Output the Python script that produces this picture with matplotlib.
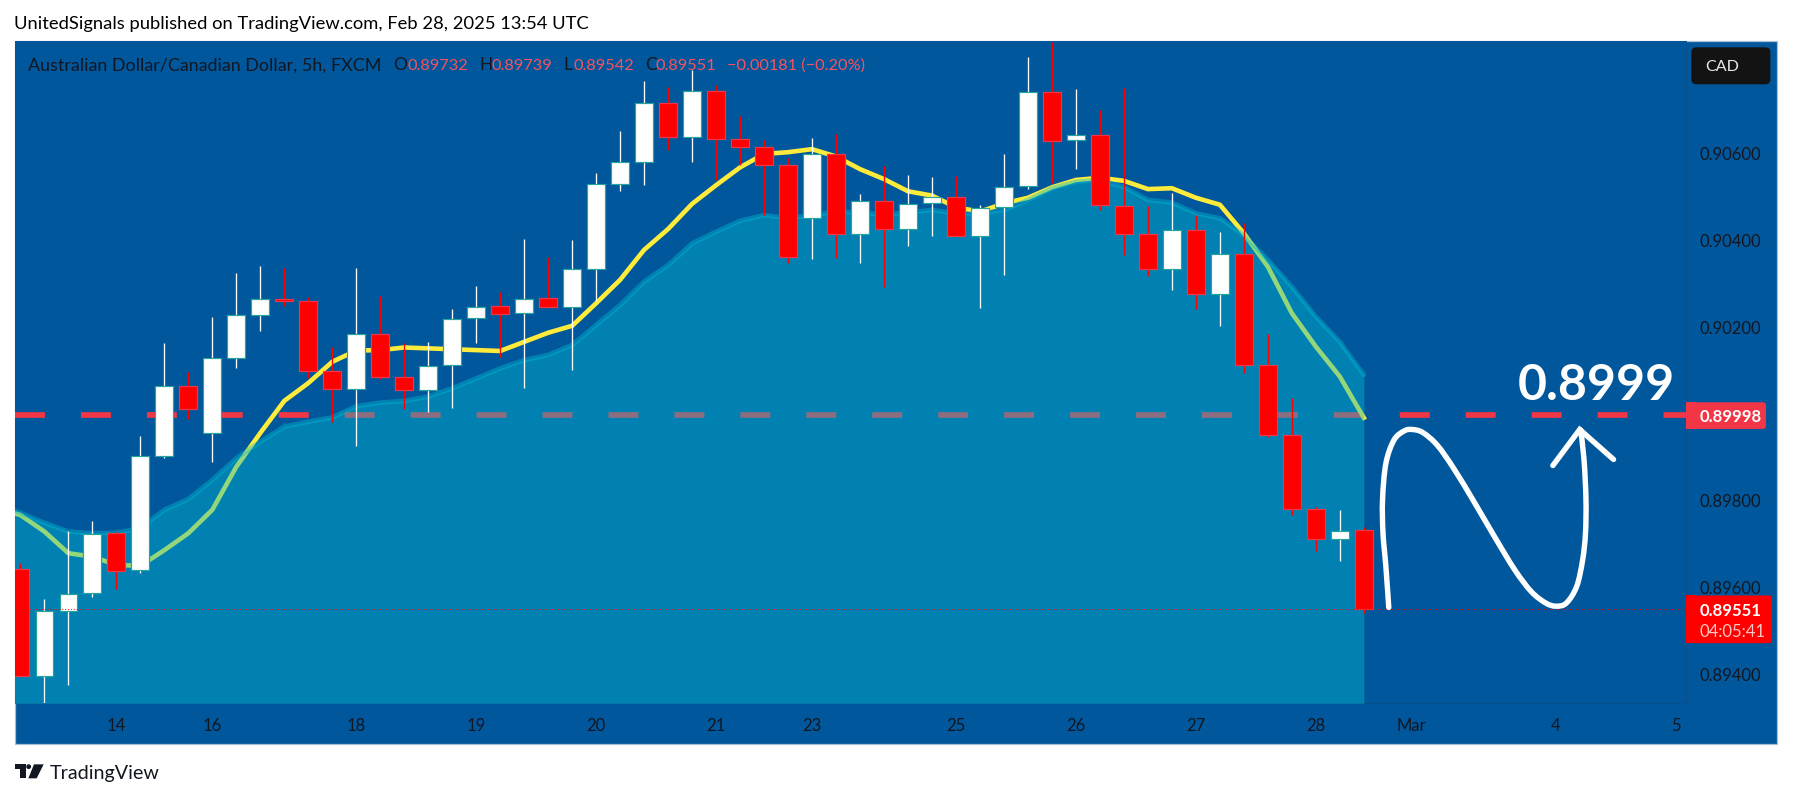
import matplotlib
matplotlib.use("Agg")
import matplotlib.pyplot as plt
from matplotlib.patches import FancyBboxPatch, Rectangle, Polygon, Circle, PathPatch
from matplotlib.path import Path

# ---------- data ----------
opens = [0.89642,0.89395,0.89547,0.89587,0.89725,0.89640,0.89902,0.90064,0.89955,0.90128,0.90229,0.90264,0.90259,0.90098,0.90057,0.90185,0.90084,0.90054,0.90112,0.90220,0.90248,0.90232,0.90266,0.90246,0.90333,0.90530,0.90581,0.90717,0.90637,0.90745,0.90633,0.90616,0.90574,0.90451,0.90599,0.90414,0.90491,0.90425,0.90485,0.90500,0.90411,0.90476,0.90524,0.90742,0.90630,0.90643,0.90480,0.90414,0.90333,0.90424,0.90276,0.90369,0.90112,0.89951,0.89781,0.89711,0.89732]
highs = [0.89656,0.89574,0.89730,0.89753,0.89728,0.89949,0.90163,0.90097,0.90223,0.90325,0.90341,0.90336,0.90269,0.90153,0.90336,0.90272,0.90163,0.90165,0.90241,0.90295,0.90282,0.90402,0.90361,0.90401,0.90554,0.90652,0.90767,0.90753,0.90792,0.90758,0.90686,0.90631,0.90589,0.90635,0.90646,0.90507,0.90571,0.90550,0.90546,0.90548,0.90481,0.90599,0.90822,0.90858,0.90748,0.90700,0.90752,0.90479,0.90509,0.90458,0.90419,0.90441,0.90184,0.90037,0.89785,0.89779,0.89739]
lows = [0.89395,0.89335,0.89375,0.89577,0.89597,0.89634,0.89899,0.89988,0.89890,0.90106,0.90192,0.90249,0.90082,0.89982,0.89927,0.90080,0.90011,0.90004,0.90014,0.90164,0.90132,0.90060,0.90246,0.90101,0.90259,0.90514,0.90527,0.90608,0.90580,0.90539,0.90573,0.90458,0.90348,0.90358,0.90360,0.90348,0.90293,0.90388,0.90411,0.90411,0.90245,0.90321,0.90519,0.90531,0.90565,0.90470,0.90367,0.90318,0.90286,0.90242,0.90203,0.90094,0.89946,0.89768,0.89683,0.89662,0.89542]
closes = [0.89395,0.89547,0.89586,0.89724,0.89639,0.89902,0.90064,0.90012,0.90128,0.90229,0.90264,0.90259,0.90098,0.90057,0.90185,0.90084,0.90054,0.90111,0.90219,0.90247,0.90231,0.90265,0.90246,0.90333,0.90530,0.90581,0.90717,0.90637,0.90745,0.90633,0.90616,0.90574,0.90362,0.90599,0.90414,0.90491,0.90425,0.90484,0.90500,0.90411,0.90475,0.90523,0.90742,0.90629,0.90643,0.90481,0.90414,0.90333,0.90424,0.90276,0.90369,0.90112,0.89951,0.89781,0.89711,0.89731,0.89551]
# moving averages start one bar before the first candle
ma_fast = [0.89783,0.89767,0.89729,0.89679,0.89671,0.89652,0.89650,0.89686,0.89725,0.89779,0.89878,0.89956,0.90030,0.90071,0.90120,0.90146,0.90147,0.90153,0.90151,0.90149,0.90147,0.90145,0.90166,0.90187,0.90203,0.90255,0.90309,0.90378,0.90426,0.90484,0.90527,0.90568,0.90599,0.90603,0.90610,0.90593,0.90564,0.90541,0.90513,0.90503,0.90476,0.90466,0.90485,0.90498,0.90522,0.90539,0.90544,0.90537,0.90518,0.90520,0.90498,0.90482,0.90416,0.90339,0.90232,0.90155,0.90086,0.89991]
ma_slow = [0.89795,0.89772,0.89749,0.89729,0.89725,0.89726,0.89737,0.89779,0.89804,0.89848,0.89898,0.89936,0.89971,0.89982,0.89992,0.90018,0.90026,0.90030,0.90040,0.90059,0.90082,0.90105,0.90124,0.90136,0.90159,0.90205,0.90251,0.90305,0.90343,0.90393,0.90420,0.90445,0.90458,0.90451,0.90458,0.90466,0.90464,0.90460,0.90464,0.90470,0.90462,0.90462,0.90470,0.90493,0.90520,0.90535,0.90539,0.90523,0.90493,0.90487,0.90462,0.90451,0.90412,0.90355,0.90293,0.90224,0.90166,0.90090]
target_price = 0.89998
last_price = 0.89551
x_tick_bars = [4,8,14,19,24,29,33,39,44,49,54,58,64,69]
x_tick_labels = ["14","16","18","19","20","21","23","25","26","27","28","Mar","4","5"]
y_ticks = [0.906,0.904,0.902,0.898,0.896,0.894]
y_tick_labels = ["0.90600","0.90400","0.90200","0.89800","0.89600","0.89400"]
sketch_x = [57.04,56.92,56.80,56.78,56.92,57.26,57.69,58.03,58.46,59.06,59.74,60.59,61.45,62.30,62.99,63.59,64.01,64.44,64.87,65.12,65.24,65.26,65.18,65.04]
sketch_y = [0.89554,0.89648,0.89725,0.89802,0.89886,0.89940,0.89961,0.89964,0.89957,0.89928,0.89875,0.89798,0.89717,0.89640,0.89590,0.89564,0.89557,0.89564,0.89602,0.89663,0.89725,0.89802,0.89894,0.89963]
arrow_x = [63.88,65.00,66.41]
arrow_y = [0.89881,0.89964,0.89895]

# ---------- layout ----------
W, H = 1793, 798
BG = "#01579b"; INK = "#131722"; CYAN = "#00bcd4"; DASH = "#f23645"; FONT = "Lato"
L, R, T, B = 15.3, 1686.0, 41.3, 703.3
plt.rcParams["font.family"] = FONT
fig = plt.figure(figsize=(W/100, H/100), dpi=100, facecolor="white")

back = fig.add_axes([0, 0, 1, 1], zorder=0)
back.set_xlim(0, W); back.set_ylim(H, 0); back.axis("off")
back.add_patch(Rectangle((15, 41), 1762.4, 703.3, fc=BG, ec="#a9bfd3", lw=0.9))

ax = fig.add_axes([L/W, 1-B/H, (R-L)/W, (B-T)/H], zorder=1, facecolor=BG)
ax.set_xlim(-0.2126, 69.43)
ax.set_ylim(0.893332, 0.908585)
for s in ("top", "left"):
    ax.spines[s].set_visible(False)
for s in ("right", "bottom"):
    ax.spines[s].set_color("#0a4f8c"); ax.spines[s].set_linewidth(0.7)

n = len(opens)
bars = list(range(n))
ma_x = list(range(-1, n))
ax.axhline(target_price, color=DASH, lw=4.1, dashes=(5.26, 6.32), dash_capstyle="butt", zorder=1)
ax.plot(ma_x, ma_fast, color="#ffeb3b", lw=3.3, zorder=2, solid_joinstyle="round")
ax.fill_between(ma_x, ma_slow, 0.893332, color=CYAN, alpha=0.42, lw=0, zorder=3)
ax.plot(ma_x, ma_slow, color=CYAN, lw=3.3, alpha=0.42, zorder=3, solid_capstyle="round")

up = [c >= o for o, c in zip(opens, closes)]
body_c = ["#ffffff" if u else "#ff0000" for u in up]
edge_c = ["#26a69a" if u else "#f23645" for u in up]
ax.vlines(bars, lows, highs, colors=body_c, lw=0.95, zorder=4)
ax.bar(bars, [abs(c-o) for o, c in zip(opens, closes)], bottom=[min(o, c) for o, c in zip(opens, closes)],
       width=0.74, color=body_c, edgecolor=edge_c, linewidth=0.85, zorder=5)
ax.axhline(last_price, color="#ff0000", lw=0.7, ls=(0, (1, 2)), zorder=6)

# smooth freehand stroke: Catmull-Rom segments through the read points
pts = list(zip(sketch_x, sketch_y))
verts = [pts[0]]; codes = [Path.MOVETO]
for k in range(len(pts)-1):
    p0 = pts[max(k-1, 0)]; p1 = pts[k]; p2 = pts[k+1]; p3 = pts[min(k+2, len(pts)-1)]
    c1 = (p1[0]+(p2[0]-p0[0])/6, p1[1]+(p2[1]-p0[1])/6)
    c2 = (p2[0]-(p3[0]-p1[0])/6, p2[1]-(p3[1]-p1[1])/6)
    verts += [c1, c2, p2]; codes += [Path.CURVE4]*3
ax.add_patch(PathPatch(Path(verts, codes), fc="none", ec="white", lw=3.9, capstyle="round", joinstyle="round", zorder=7))
ax.plot(arrow_x, arrow_y, color="white", lw=3.9, solid_capstyle="round", solid_joinstyle="miter", zorder=7)

ax.set_xticks(x_tick_bars, x_tick_labels)
ax.yaxis.tick_right()
ax.set_yticks(y_ticks, y_tick_labels)
ax.tick_params(axis="x", length=0, pad=10.5, labelsize=12, labelcolor=INK)
ax.tick_params(axis="y", length=0, pad=9.7, labelsize=12, labelcolor=INK)

# ---------- text and labels, pixel coordinates ----------
over = fig.add_axes([0, 0, 1, 1], zorder=2, facecolor="none")
over.set_xlim(0, W); over.set_ylim(H, 0); over.axis("off")

def txt(x, y, s, size, color, ha="left", **kw):
    return over.text(x, y, s, fontsize=size, color=color, ha=ha, va="center_baseline", **kw)

def price_y(p):
    return H - ax.transData.transform((0, p))[1]

txt(14, 23, "UnitedSignals published on TradingView.com, Feb 28, 2025 13:54 UTC", 13.2, "black")
LEG = "#f7525f"
txt(27.5, 64, "Australian Dollar/Canadian Dollar, 5h, FXCM", 12.85, INK)
for x, s, c in [(393, "O", INK), (407.6, "0.89732", LEG), (479.5, "H", INK), (491.8, "0.89739", LEG),
                (563, "L", INK), (574, "0.89542", LEG), (644.7, "C", INK), (655.6, "0.89551", LEG),
                (727, "\u22120.00181 (\u22120.20%)", LEG)]:
    txt(x, 64, s, 11.8 if c == LEG else 12.5, c)

txt(1596, 381, "0.8999", 36, "white", ha="center", zorder=9, fontweight="bold")

def box(x0, x1, y0, y1, fc, pad=3):
    over.add_patch(FancyBboxPatch((x0+pad, y0+pad), x1-x0-2*pad, y1-y0-2*pad,
                   boxstyle=f"round,pad={pad},rounding_size={pad}", fc=fc, ec="none", zorder=3))

box(1691.3, 1770.4, 47.3, 84.3, "#131313", pad=5)
txt(1705.7, 65.3, "CAD", 11.6, "#e6e6e6", zorder=4)

ty = price_y(target_price)
over.add_patch(Rectangle((1686, ty-12.5), 10, 26.7, fc=DASH, ec="none", zorder=3))
box(1688, 1766, ty-12.5, ty+14.2, DASH)
txt(1699.5, ty+1, "0.89998", 12, "white", zorder=4, fontweight="bold")

ly = price_y(last_price)
over.add_patch(Rectangle((1686, ly-13.3), 10, 47.7, fc="#ff0000", ec="none", zorder=3))
box(1688, 1772, ly-13.3, ly+34.4, "#ff0000")
txt(1699.5, ly+0.7, "0.89551", 12, "white", zorder=4, fontweight="bold")
txt(1699.5, ly+21.4, "04:05:41", 12, "#ffc4c4", zorder=4)

def lx(v): return 10 + v/3
def ly_(v): return 755 + v/3
over.add_patch(Polygon([(lx(15), ly_(28)), (lx(47), ly_(28)), (lx(47), ly_(70)), (lx(30), ly_(70)),
                        (lx(30), ly_(42)), (lx(15), ly_(42))], fc="#131722", ec="none"))
over.add_patch(Circle((lx(56), ly_(35)), 2.4, fc="#131722", ec="none"))
over.add_patch(Polygon([(lx(72), ly_(28)), (lx(101), ly_(28)), (lx(80), ly_(70)), (lx(55), ly_(70))],
                       fc="#131722", ec="none"))
txt(49.8, 772, "TradingView", 14.2, "#131722")

fig.savefig("out.png", dpi=100)
